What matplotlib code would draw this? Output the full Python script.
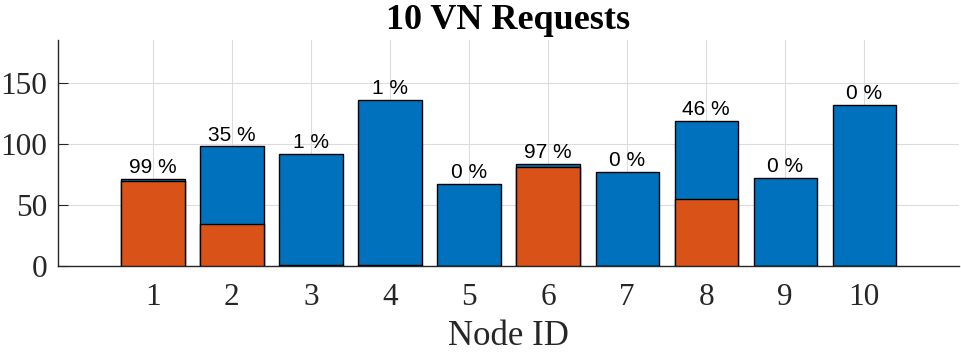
import numpy as np
import matplotlib
matplotlib.use('Agg')
import matplotlib.pyplot as plt

# data
nodes = [1, 2, 3, 4, 5, 6, 7, 8, 9, 10]
total = [71, 98, 92, 136, 67, 83.5, 77, 119, 72, 132]
served = [70, 34, 1, 1, 0, 81, 0, 55, 0, 0]
pct = [99, 35, 1, 1, 0, 97, 0, 46, 0, 0]

blue = '#0072BD'
orange = '#D95319'
axcol = '#262626'

plt.rcParams['font.family'] = ['Liberation Serif', 'DejaVu Serif']

fig = plt.figure(figsize=(9.61, 3.55), dpi=100)
ax = fig.add_axes([0.0604, 0.2507, 0.9376, 0.6363])

ax.bar(nodes, total, width=0.8, color=blue, edgecolor='black', linewidth=1, zorder=2)
ax.bar(nodes, served, width=0.8, color=orange, edgecolor='black', linewidth=1, zorder=3)

for x, t, p in zip(nodes, total, pct):
    ax.text(x, t + 1.5, f'{p} %', ha='center', va='bottom', fontsize=15,
            family=['Liberation Sans', 'DejaVu Sans'], color='black', zorder=4)

ax.set_xlim(-0.2, 11.2)
ax.set_ylim(0, 185)
ax.set_xticks(nodes)
ax.set_yticks([0, 50, 100, 150])
ax.set_axisbelow(True)
ax.grid(True, color='#dcdcdc', linewidth=0.8)

for s in ['top', 'right']:
    ax.spines[s].set_visible(False)
for s in ['left', 'bottom']:
    ax.spines[s].set_color(axcol)
    ax.spines[s].set_linewidth(1)

ax.tick_params(axis='both', direction='in', length=7, color=axcol,
               labelcolor=axcol, labelsize=22.5)
ax.tick_params(axis='x', pad=12)
ax.tick_params(axis='y', pad=8)

ax.set_title('10 VN Requests', fontsize=26, fontweight='bold', pad=8)
ax.set_xlabel('Node ID', fontsize=25, color=axcol, labelpad=6)

fig.savefig('out.png', dpi=100)
